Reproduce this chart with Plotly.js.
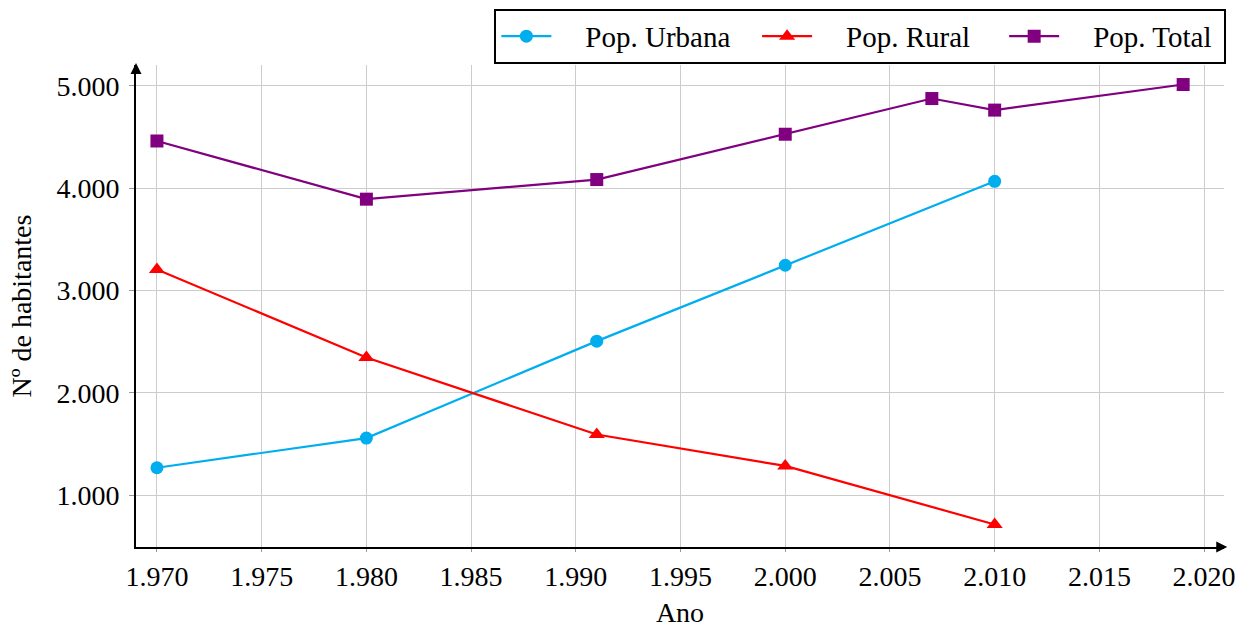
<!DOCTYPE html>
<html>
<head>
<meta charset="utf-8">
<script src="https://cdn.plot.ly/plotly-3.0.1.min.js"></script>
<style>html,body{margin:0;padding:0;background:#fff;}#chart{width:1240px;height:628px;}</style>
</head>
<body>
<div id="chart"></div>
<script>
// Data
const yearsUrbana = [1970, 1980, 1991, 2000, 2010];
const popUrbana   = [1267, 1557, 2505, 3247, 4068];

const yearsRural  = [1970, 1980, 1991, 2000, 2010];
const popRural    = [3205, 2345, 1592, 1285, 712];

const yearsTotal  = [1970, 1980, 1991, 2000, 2007, 2010, 2019];
const popTotal    = [4462, 3893, 4085, 4528, 4877, 4764, 5014];

const seriesNames = ['Pop. Urbana', 'Pop. Rural', 'Pop. Total'];
const xTickVals = [1970, 1975, 1980, 1985, 1990, 1995, 2000, 2005, 2010, 2015, 2020];
const yTickVals = [1000, 2000, 3000, 4000, 5000];
const xTitle = 'Ano';
const yTitle = 'Nº de habitantes';

const FONT = 'Liberation Serif, Times New Roman, serif';
const NBSP = '\u00A0';
const pad = (s, before, after) => NBSP.repeat(before) + s + NBSP.repeat(after);

const traces = [
  {x: yearsUrbana, y: popUrbana, name: pad(seriesNames[0], 4, 3), mode: 'lines+markers',
   line: {color: '#00AEEF', width: 2.2}, marker: {symbol: 'circle', size: 13, color: '#00AEEF'}},
  {x: yearsRural, y: popRural, name: pad(seriesNames[1], 4, 4), mode: 'lines+markers',
   line: {color: '#FF0000', width: 2.2}, marker: {symbol: 'triangle-up', size: 14, color: '#FF0000'}},
  {x: yearsTotal, y: popTotal, name: pad(seriesNames[2], 4, 1), mode: 'lines+markers',
   line: {color: '#800080', width: 2.2}, marker: {symbol: 'square', size: 13, color: '#800080'}}
];

const layout = {
  width: 1240, height: 628,
  margin: {l: 136, r: 16, t: 65, b: 81, pad: 0},
  paper_bgcolor: '#fff', plot_bgcolor: '#fff',
  separators: ',.',
  font: {family: FONT, size: 28, color: '#000'},
  showlegend: true,
  legend: {
    orientation: 'h', xref: 'container', yref: 'container',
    x: 0.989, xanchor: 'right', y: 0.986, yanchor: 'top',
    bgcolor: '#fff', bordercolor: '#000', borderwidth: 2,
    font: {family: FONT, size: 29, color: '#000'},
    itemwidth: 50, tracegroupgap: 0
  },
  xaxis: {
    range: [1969, 2020.95], tickvals: xTickVals, tickformat: ',d',
    showgrid: true, gridcolor: '#cccccc', gridwidth: 1,
    showline: true, linecolor: '#000', linewidth: 2, mirror: false,
    ticks: 'outside', ticklen: 3, tickcolor: '#999', tickwidth: 1,
    zeroline: false, automargin: false,
    tickfont: {family: FONT, size: 28, color: '#000'},
    title: {text: xTitle, standoff: 19, font: {family: FONT, size: 28, color: '#000'}}
  },
  yaxis: {
    range: [492, 5205], tickvals: yTickVals, tickformat: ',d',
    showgrid: true, gridcolor: '#cccccc', gridwidth: 1,
    showline: true, linecolor: '#000', linewidth: 2, mirror: false,
    ticks: 'outside', ticklen: 5, tickcolor: '#999', tickwidth: 1,
    ticklabelstandoff: 4,
    zeroline: false, automargin: false,
    tickfont: {family: FONT, size: 28, color: '#000'},
    title: {text: yTitle, standoff: 17, font: {family: FONT, size: 28, color: '#000'}}
  },
  annotations: [
    {xref: 'paper', yref: 'paper', x: 1.003, y: 0, ax: -12, ay: 0, axref: 'pixel', ayref: 'pixel',
     text: '', showarrow: true, arrowhead: 2, arrowsize: 1.1, arrowwidth: 2, arrowcolor: '#000', standoff: 0},
    {xref: 'paper', yref: 'paper', x: 0, y: 1.004, ax: 0, ay: 12, axref: 'pixel', ayref: 'pixel',
     text: '', showarrow: true, arrowhead: 2, arrowsize: 1.1, arrowwidth: 2, arrowcolor: '#000', standoff: 0}
  ]
};

Plotly.newPlot('chart', traces, layout, {displayModeBar: false, staticPlot: true});
</script>
</body>
</html>
